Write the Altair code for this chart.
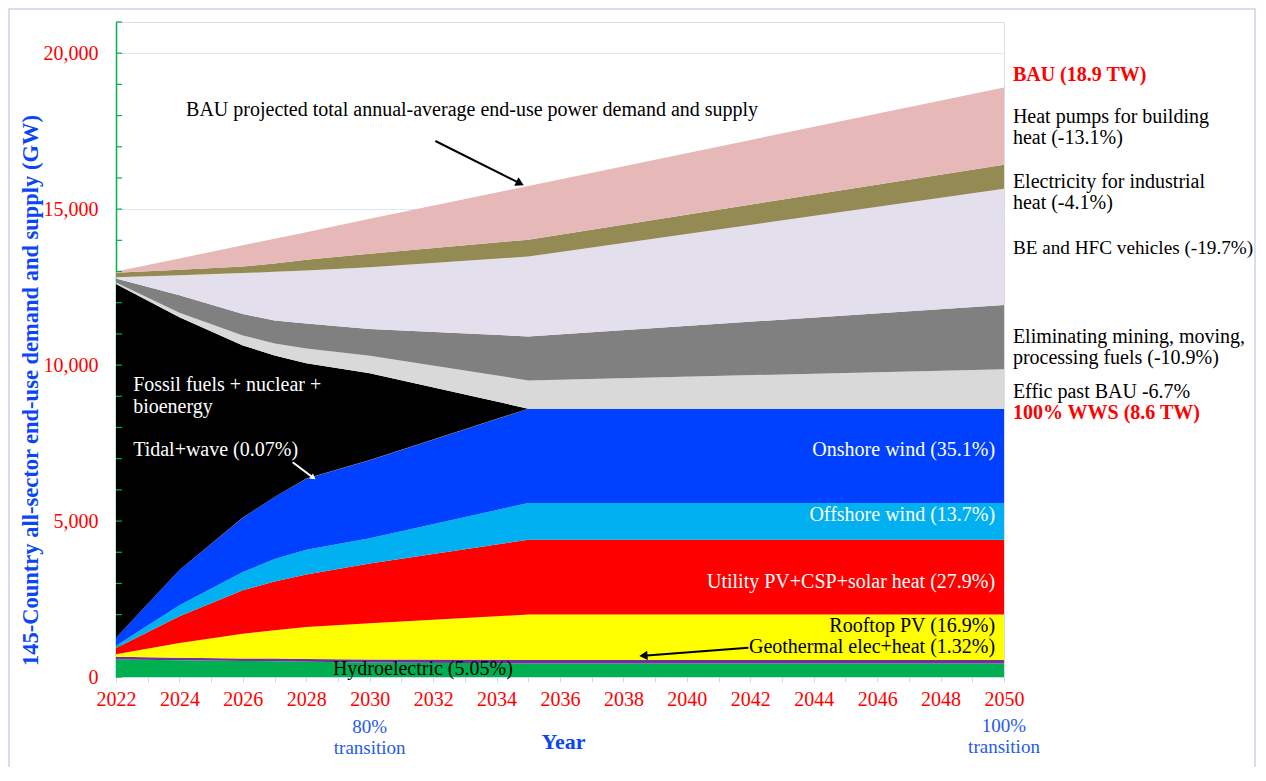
import altair as alt
import pandas as pd

FONT = "Liberation Serif"

# ---------------- data (GW) ----------------
years = [2022, 2024, 2026, 2027, 2028, 2030, 2035, 2050]
hydro = [560, 535, 515, 505, 490, 465, 434, 434]
geothermal = [90, 80, 80, 85, 90, 100, 114, 114]
rooftop_pv = [80, 475, 795, 910, 1023, 1162, 1453, 1453]
utility_pv = [200, 855, 1389, 1560, 1687, 1913, 2399, 2399]
offshore_wind = [73, 353, 586, 720, 791, 810, 1178, 1178]
onshore_wind = [257, 1131, 1744, 1989, 2278, 2500, 3019, 3019]
tidal_wave = [1, 2, 3, 4, 4, 5, 6, 6]
fossil = [11339, 8099, 5518, 4537, 3697, 2785, 0, 0]
effic = [50, 150, 320, 380, 470, 560, 907, 1266]
mining = [130, 560, 690, 740, 800, 860, 1410, 2060]
vehicles = [40, 640, 1310, 1560, 1700, 1980, 2560, 3723]
industrial_heat = [140, 180, 210, 270, 350, 430, 540, 775]
heat_pumps = [40, 360, 680, 790, 880, 1120, 1720, 2476]

series_names = [
    "Hydroelectric", "Geothermal", "Rooftop PV", "Utility PV", "Offshore wind",
    "Onshore wind", "Tidal+wave", "Fossil", "Effic", "Mining", "Vehicles",
    "Industrial heat", "Heat pumps",
]
series_values = [
    hydro, geothermal, rooftop_pv, utility_pv, offshore_wind, onshore_wind,
    tidal_wave, fossil, effic, mining, vehicles, industrial_heat, heat_pumps,
]
series_colors = [
    "#00B050", "#7030A0", "#FFFF00", "#FF0000", "#00B0F0", "#0040FF",
    "#A0522D", "#000000", "#D9D9D9", "#808080", "#E4DFEC", "#948A54", "#E6B8B7",
]

x_tick_years = [2022, 2023, 2024, 2025, 2026, 2027, 2028, 2029, 2030, 2031, 2032,
                2033, 2034, 2035, 2036, 2037, 2038, 2039, 2040, 2041, 2042, 2043,
                2044, 2045, 2046, 2047, 2048, 2049, 2050]
y_label_values = [0, 5000, 10000, 15000, 20000]
y_minor_ticks = [0, 1000, 2000, 3000, 4000, 5000, 6000, 7000, 8000, 9000, 10000,
                 11000, 12000, 13000, 14000, 15000, 16000, 17000, 18000, 19000,
                 20000, 21000]

rows = []
for k, (name, vals) in enumerate(zip(series_names, series_values)):
    for yr, v in zip(years, vals):
        rows.append({"year": yr, "value": v, "series": name, "ord": k})
df = pd.DataFrame(rows)

xs = alt.Scale(domain=[2022, 2050], nice=False, zero=False)
ys = alt.Scale(domain=[0, 21000], nice=False, zero=False)

areas = alt.Chart(df).mark_area(strokeWidth=0, opacity=1).encode(
    x=alt.X("year:Q", scale=xs, axis=alt.Axis(
        values=x_tick_years, format="d",
        labelExpr="datum.value % 2 == 0 ? datum.label : ''",
        labelColor="#FF0000", labelFontSize=20, labelFont=FONT, labelFlush=False,
        labelOverlap=False,
        tickColor="#C6D9F1", tickSize=5, labelPadding=7,
        domainColor="#C6D9F1", grid=False,
        title="Year", titleColor="#0A46F5", titleFontSize=22, titleFont=FONT,
        titleFontWeight="bold", titleX=447, titleY=64, titleBaseline="middle",
    )),
    y=alt.Y("value:Q", stack="zero", scale=ys, axis=alt.Axis(
        values=y_label_values, format=",.0f", labelColor="#FF0000", labelFontSize=20,
        labelFont=FONT, labelFlush=False, labelOverlap=False,
        ticks=False, tickSize=0, labelPadding=18,
        domainColor="#00B050", domainWidth=1.5,
        grid=True, gridColor="#DCE6F2", gridWidth=1,
        title="145-Country all-sector end-use demand and supply (GW)",
        titleColor="#0A46F5", titleFontSize=22.5, titleFont=FONT, titleFontWeight="bold",
        titleX=-86, titleY=368, titleAngle=270, titleAlign="center",
        titleBaseline="middle",
    )),
    color=alt.Color("series:N", scale=alt.Scale(domain=series_names, range=series_colors),
                    legend=None),
    order=alt.Order("ord:Q", sort="ascending"),
)

# inward minor ticks on the y axis
ticks = alt.Chart(pd.DataFrame({"v": y_minor_ticks})).mark_rule(
    color="#00B050", strokeWidth=1.2).encode(
    y=alt.Y("v:Q", scale=ys, axis=None), x=alt.value(0), x2=alt.value(6))


def labels(xv, yv, texts, color, align, bold=False, size=20):
    d = pd.DataFrame({"x": xv, "y": yv, "t": texts})
    return alt.Chart(d).mark_text(
        align=align, baseline="middle", color=color, font=FONT, fontSize=size,
        fontWeight="bold" if bold else "normal",
    ).encode(x=alt.X("x:Q", scale=xs, axis=None),
             y=alt.Y("y:Q", scale=ys, axis=None), text="t:N")


right_texts = ["Heat pumps for building", "heat (-13.1%)", "Electricity for industrial",
               "heat (-4.1%)", "Eliminating mining, moving,",
               "processing fuels (-10.9%)", "Effic past BAU -6.7%"]
right_y = [17964, 17272, 15880, 15188, 10911, 10218, 9147]
right_x = [2050.28] * len(right_texts)

vehicles_text = ["BE and HFC vehicles (-19.7%)"]
vehicles_y = [13745]
vehicles_x = [2050.28]

red_texts = ["BAU (18.9 TW)", "100% WWS (8.6 TW)"]
red_y = [19301, 8474]
red_x = [2050.28, 2050.28]

white_right_texts = ["Onshore wind (35.1%)", "Offshore wind (13.7%)",
                     "Utility PV+CSP+solar heat (27.9%)"]
white_right_y = [7278, 5194, 3055]
white_right_x = [2049.72, 2049.72, 2049.72]

black_right_texts = ["Rooftop PV (16.9%)", "Geothermal elec+heat (1.32%)"]
black_right_y = [1635, 971]
black_right_x = [2049.72, 2049.72]

black_left_texts = ["Hydroelectric (5.05%)",
                    "BAU projected total annual-average end-use power demand and supply"]
black_left_y = [265, 18179]
black_left_x = [2028.84, 2024.21]

white_left_texts = ["Fossil fuels + nuclear +", "bioenergy", "Tidal+wave (0.07%)"]
white_left_y = [9362, 8666, 7278]
white_left_x = [2022.54, 2022.54, 2022.54]

blue_texts = ["80%", "transition", "100%", "transition"]
blue_y = [-1600, -2290, -1571, -2230]
blue_x = [2030, 2030, 2050, 2050]

# arrows
arrow_id = ["bau", "bau", "geo", "geo"]
arrow_x = [2032.07, 2034.74, 2041.94, 2038.63]
arrow_y = [17185, 15829, 939, 683]
white_arrow_x = [2027.57, 2028.22]
white_arrow_y = [6884, 6390]
head_x = [2034.74, 2038.63]
head_y = [15829, 683]
head_angle = [116.6, 265.6]

black_lines = alt.Chart(pd.DataFrame({"id": arrow_id, "x": arrow_x, "y": arrow_y})).mark_line(
    color="black", strokeWidth=2).encode(
    x=alt.X("x:Q", scale=xs, axis=None), y=alt.Y("y:Q", scale=ys, axis=None), detail="id:N")
black_heads = alt.Chart(pd.DataFrame({"x": head_x, "y": head_y, "a": head_angle})).mark_point(
    shape="triangle-up", filled=True, color="black", size=90, opacity=1).encode(
    x=alt.X("x:Q", scale=xs, axis=None), y=alt.Y("y:Q", scale=ys, axis=None),
    angle=alt.Angle("a:Q", scale=None))
white_line = alt.Chart(pd.DataFrame({"x": white_arrow_x, "y": white_arrow_y})).mark_line(
    color="white", strokeWidth=2).encode(
    x=alt.X("x:Q", scale=xs, axis=None), y=alt.Y("y:Q", scale=ys, axis=None))
white_head = alt.Chart(pd.DataFrame({"x": [white_arrow_x[1]], "y": [white_arrow_y[1]]})).mark_point(
    shape="triangle-up", filled=True, color="white", size=40, opacity=1, angle=126.8).encode(
    x=alt.X("x:Q", scale=xs, axis=None), y=alt.Y("y:Q", scale=ys, axis=None))

frame = alt.Chart(pd.DataFrame({"a": [0]})).mark_rect(
    fill="transparent", stroke="#C9D3E3", strokeWidth=1.5).encode(
    x=alt.value(-107), x2=alt.value(1139), y=alt.value(-13), y2=alt.value(900))

chart = alt.layer(
    frame,
    areas,
    ticks,
    labels(right_x, right_y, right_texts, "black", "left"),
    labels(vehicles_x, vehicles_y, vehicles_text, "black", "left", size=19.2),
    labels(red_x, red_y, red_texts, "#FF0000", "left", bold=True),
    labels(white_right_x, white_right_y, white_right_texts, "white", "right"),
    labels(black_right_x, black_right_y, black_right_texts, "black", "right"),
    labels(black_left_x, black_left_y, black_left_texts, "black", "left"),
    labels(white_left_x, white_left_y, white_left_texts, "white", "left"),
    labels(blue_x, blue_y, blue_texts, "#1F5AF0", "center", size=19),
    black_lines, black_heads, white_line, white_head,
).resolve_axis(x="independent", y="independent").properties(
    width=888, height=655,
    autosize=alt.AutoSizeParams(type="none"),
    padding={"left": 108, "top": 14, "right": 254, "bottom": 90},
).configure_view(strokeWidth=0).configure(font=FONT)

chart.save("out.html", embed_options={"renderer": "svg", "actions": False})
